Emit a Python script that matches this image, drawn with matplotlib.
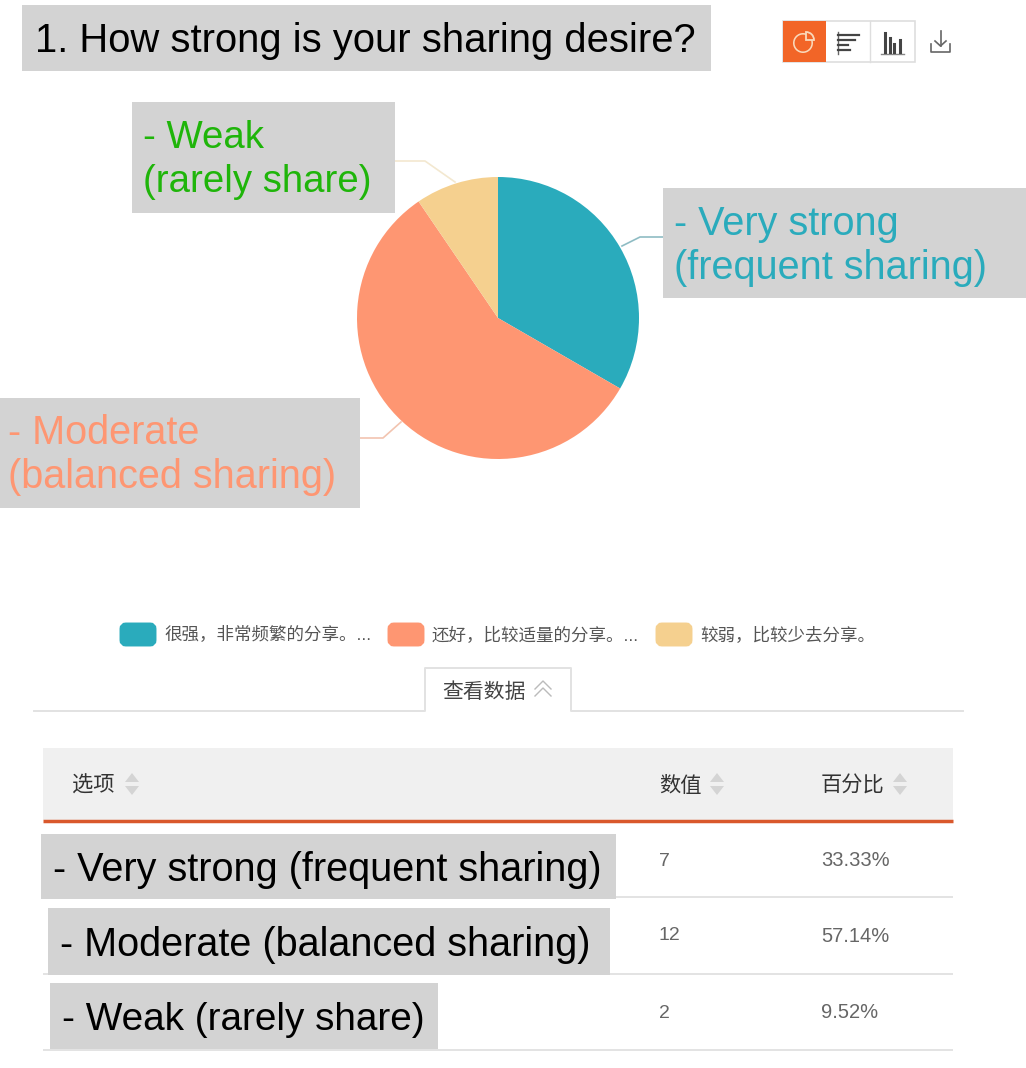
import matplotlib
matplotlib.use('Agg')
import matplotlib.pyplot as plt
from matplotlib.patches import Rectangle, FancyBboxPatch, Wedge, Polygon

plt.rcParams['font.family'] = ['Liberation Sans', 'Noto Sans CJK SC', 'DejaVu Sans']

title = '1. How strong is your sharing desire?'
options = ['- Very strong (frequent sharing)', '- Moderate (balanced sharing)', '- Weak (rarely share)']
pie_labels = ['- Very strong\n(frequent sharing)', '- Moderate\n(balanced sharing)', '- Weak\n(rarely share)']
legend_labels = ['很强，非常频繁的分享。...', '还好，比较适量的分享。...', '较弱，比较少去分享。']
counts = [7, 12, 2]
percents = ['33.33%', '57.14%', '9.52%']
pie_colors = ['#2aabbc', '#fe9672', '#f5d08f']
headers = ['选项', '数值', '百分比']

GREY = '#d3d3d3'
ORANGE = '#f26527'
W, H = 1026, 1068

fig = plt.figure(figsize=(W / 100, H / 100), dpi=100, facecolor='white')
ax = fig.add_axes([0, 0, 1, 1])
ax.set_xlim(0, W)
ax.set_ylim(H, 0)
ax.axis('off')


def grey_text(x0, y0, x1, y1, text, color='black', size=28.5, tx=None, ty=None, spacing=1.2):
    ax.add_patch(Rectangle((x0, y0), x1 - x0, y1 - y0, fc=GREY, ec='none', zorder=3))
    ax.text(tx, ty, text, color=color, fontsize=size, va='center', ha='left',
            linespacing=spacing, zorder=4)


def sort_arrows(x, y):
    ax.add_patch(Polygon([(x - 7, y - 2), (x + 7, y - 2), (x, y - 11)], fc='#d4d4d4', ec='none'))
    ax.add_patch(Polygon([(x - 7, y + 2), (x + 7, y + 2), (x, y + 11)], fc='#d4d4d4', ec='none'))


# pie
ax_pie = fig.add_axes([(498 - 145) / W, 1 - (318 + 145) / H, 290 / W, 290 / H])
ax_pie.pie(counts, colors=pie_colors, startangle=90, counterclock=False, radius=141 / 145,
           wedgeprops={'linewidth': 0})
ax_pie.set_xlim(-1, 1)
ax_pie.set_ylim(-1, 1)

# leader lines
ax.plot([622, 640, 664], [246, 237, 237], color='#8fbcc4', lw=1.2)
ax.plot([360, 383, 401], [438, 438, 422], color='#f2c4b0', lw=1.2)
ax.plot([395, 425, 455], [161, 161, 182], color='#f3e8d0', lw=1.2)

# title and toolbar
grey_text(22, 5, 711, 71, title, size=28.8, tx=35, ty=41)
ax.add_patch(Rectangle((783, 21), 132, 41, fc='white', ec='#dedede', lw=1.2))
ax.add_patch(Rectangle((783, 21), 43, 41, fc=ORANGE, ec='none'))
ax.plot([870, 870], [21, 62], color='#dedede', lw=1)
ax.add_patch(Wedge((803, 43), 10, 0, 360, width=1.6, fc='#f9d9bb', ec='none'))
ax.add_patch(Wedge((806, 40), 8, -90, 0, width=8, fc=ORANGE, ec='#f9d9bb', lw=1.3))
ax.plot([838, 838], [32, 54], color='#666666', lw=1)
for yy, xx in zip([35, 40, 45, 50], [859, 855, 848, 850]):
    ax.plot([838, xx], [yy, yy], color='#444444', lw=1.6)
ax.plot([881, 904], [54, 54], color='#888888', lw=1)
for xx, yy in zip([885, 890, 894, 900], [33, 38, 44, 40]):
    ax.plot([xx, xx], [yy, 52], color='#444444', lw=2.2)
ax.plot([931, 931, 950, 950], [44, 52, 52, 44], color='#666666', lw=1.2)
ax.plot([940.5, 940.5], [31, 46], color='#666666', lw=1.2)
ax.plot([935, 940.5, 946], [41, 46, 41], color='#666666', lw=1.2)

# pie callouts
grey_text(663, 188, 1026, 298, pie_labels[0], color=pie_colors[0], tx=674, ty=246)
grey_text(0, 398, 360, 508, pie_labels[1], color=pie_colors[1], tx=8, ty=455)
grey_text(132, 102, 395, 213, pie_labels[2], color='#1fb50a', size=27.6, tx=143, ty=160, spacing=1.28)

# legend
for x0, x1, col, lab, tx in zip([120, 388, 656], [156, 424, 692], pie_colors, legend_labels, [164, 432, 700]):
    ax.add_patch(FancyBboxPatch((x0 + 3, 626), x1 - x0 - 6, 17, boxstyle='round,pad=0,rounding_size=3',
                                mutation_aspect=1, fc=col, ec=col, lw=5))
    ax.text(tx, 635, lab, fontsize=12.6, color='#555555', va='center', ha='left')

# data tab
ax.plot([34, 425, 425, 571, 571, 963], [711, 711, 668, 668, 711, 711], color='#e2e2e2', lw=1.4)
ax.text(442, 692, '查看数据', fontsize=15, color='#444444', va='center', ha='left')
ax.plot([535, 543, 551], [689, 681, 689], color='#bbbbbb', lw=1)
ax.plot([535, 543, 551], [696, 688, 696], color='#bbbbbb', lw=1)

# table
ax.add_patch(Rectangle((43, 748), 910, 72, fc='#f0f0f0', ec='none'))
ax.plot([43, 953], [820.5, 820.5], color='#d9582c', lw=2.5, solid_capstyle='butt')
for hx, hlab, ax_x in zip([72, 659, 821], headers, [132, 717, 900]):
    ax.text(hx, 786, hlab, fontsize=15.3, color='#333333', va='center', ha='left', fontweight='medium')
    sort_arrows(ax_x, 784)
for yy in [897, 974, 1050]:
    ax.plot([43, 953], [yy, yy], color='#e0e0e0', lw=1.3, solid_capstyle='butt')
for yy, n, pct in zip([860, 935, 1012], counts, percents):
    ax.text(659, yy + 1, str(n), fontsize=14, color='#666666', va='center', ha='left')
    ax.text(821, yy + 1, pct, fontsize=14.5, color='#666666', va='center', ha='left')

grey_text(41, 834, 616, 899, options[0], tx=53, ty=870)
grey_text(48, 908, 610, 975, options[1], tx=60, ty=945)
grey_text(50, 983, 438, 1049, options[2], size=27.9, tx=62, ty=1020)

fig.savefig('out.png', dpi=100)
